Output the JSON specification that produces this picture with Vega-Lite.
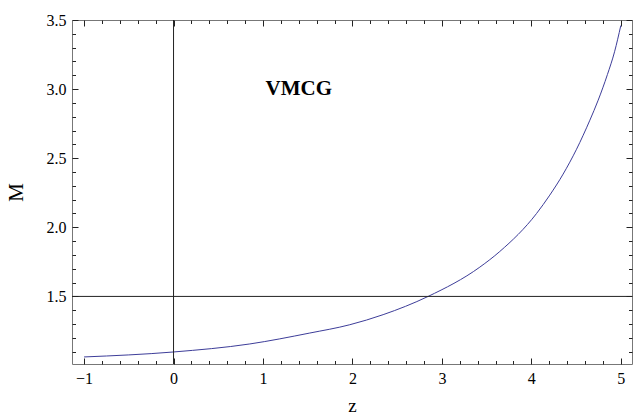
{
  "$schema": "https://vega.github.io/schema/vega-lite/v6.json",
  "autosize": "none",
  "padding": {"left": 72, "top": 20, "right": 1, "bottom": 53},
  "width": 560,
  "height": 344,
  "background": "white",
  "config": {"view": {"stroke": "#777", "strokeWidth": 1}, "font": "Liberation Serif", "axis": {"domain": false, "grid": false, "labelFont": "Liberation Serif", "titleFont": "Liberation Serif"}},
  "datasets": {
    "curve": [
      {"z": -1.0, "M": 1.062},
      {"z": 0.0, "M": 1.098},
      {"z": 0.852, "M": 1.156},
      {"z": 1.523, "M": 1.235},
      {"z": 1.97, "M": 1.295},
      {"z": 2.343, "M": 1.368},
      {"z": 2.846, "M": 1.5},
      {"z": 3.424, "M": 1.712},
      {"z": 3.647, "M": 1.825},
      {"z": 4.058, "M": 2.1},
      {"z": 4.206, "M": 2.233},
      {"z": 4.355, "M": 2.385},
      {"z": 4.505, "M": 2.565},
      {"z": 4.654, "M": 2.775},
      {"z": 4.747, "M": 2.92},
      {"z": 4.85, "M": 3.105},
      {"z": 4.93, "M": 3.27},
      {"z": 5.0, "M": 3.46}
    ],
    "label": [{"z": 1.4, "M": 3.0, "text": "VMCG"}],
    "hline": [{"M": 1.5}],
    "vline": [{"z": 0}]
  },
  "resolve": {"axis": {"x": "independent", "y": "independent"}},
  "layer": [
    {
      "data": {"name": "curve"},
      "mark": {"type": "line", "color": "#3d3d99", "strokeWidth": 1, "interpolate": "monotone", "clip": true},
      "encoding": {
        "x": {"field": "z", "type": "quantitative", "scale": {"domain": [-1.135, 5.125], "nice": false, "zero": false},
          "axis": {"orient": "bottom", "values": [-1, 0, 1, 2, 3, 4, 5], "format": "d", "tickSize": -6, "labelPadding": 12, "tickColor": "#222", "labelFontSize": 16, "labelColor": "#000", "title": "z", "titleFontSize": 19, "titleFontWeight": "normal", "titleColor": "#000", "titlePadding": 10}},
        "y": {"field": "M", "type": "quantitative", "scale": {"domain": [1.011, 3.5], "nice": false, "zero": false},
          "axis": {"orient": "left", "values": [1.5, 2.0, 2.5, 3.0, 3.5], "format": ".1f", "tickSize": -6, "labelPadding": 12, "tickColor": "#222", "labelFontSize": 16, "labelColor": "#000", "title": "M", "titleFontSize": 21, "titleFontWeight": "normal", "titleColor": "#000", "titlePadding": 20}}
      }
    },
    {
      "data": {"name": "curve"},
      "mark": {"type": "point", "opacity": 0},
      "encoding": {
        "x": {"field": "z", "type": "quantitative", "axis": {"orient": "top", "values": [-1, 0, 1, 2, 3, 4, 5], "labels": false, "title": null, "tickSize": -6, "tickColor": "#222"}},
        "y": {"field": "M", "type": "quantitative", "axis": {"orient": "right", "values": [1.5, 2.0, 2.5, 3.0, 3.5], "labels": false, "title": null, "tickSize": -6, "tickColor": "#222"}}
      }
    },
    {
      "data": {"name": "curve"},
      "mark": {"type": "point", "opacity": 0},
      "encoding": {
        "x": {"field": "z", "type": "quantitative", "axis": {"orient": "bottom", "values": [-0.8, -0.6, -0.4, -0.2, 0.2, 0.4, 0.6, 0.8, 1.2, 1.4, 1.6, 1.8, 2.2, 2.4, 2.6, 2.8, 3.2, 3.4, 3.6, 3.8, 4.2, 4.4, 4.6, 4.8], "labels": false, "title": null, "tickSize": -3.5, "tickColor": "#222"}},
        "y": {"field": "M", "type": "quantitative", "axis": {"orient": "left", "values": [1.1, 1.2, 1.3, 1.4, 1.6, 1.7, 1.8, 1.9, 2.1, 2.2, 2.3, 2.4, 2.6, 2.7, 2.8, 2.9, 3.1, 3.2, 3.3, 3.4], "labels": false, "title": null, "tickSize": -3.5, "tickColor": "#222"}}
      }
    },
    {
      "data": {"name": "curve"},
      "mark": {"type": "point", "opacity": 0},
      "encoding": {
        "x": {"field": "z", "type": "quantitative", "axis": {"orient": "top", "values": [-0.8, -0.6, -0.4, -0.2, 0.2, 0.4, 0.6, 0.8, 1.2, 1.4, 1.6, 1.8, 2.2, 2.4, 2.6, 2.8, 3.2, 3.4, 3.6, 3.8, 4.2, 4.4, 4.6, 4.8], "labels": false, "title": null, "tickSize": -3.5, "tickColor": "#222"}},
        "y": {"field": "M", "type": "quantitative", "axis": {"orient": "right", "values": [1.1, 1.2, 1.3, 1.4, 1.6, 1.7, 1.8, 1.9, 2.1, 2.2, 2.3, 2.4, 2.6, 2.7, 2.8, 2.9, 3.1, 3.2, 3.3, 3.4], "labels": false, "title": null, "tickSize": -3.5, "tickColor": "#222"}}
      }
    },
    {
      "data": {"name": "hline"},
      "mark": {"type": "rule", "color": "#222", "strokeWidth": 1},
      "encoding": {"y": {"field": "M", "type": "quantitative", "axis": null}}
    },
    {
      "data": {"name": "vline"},
      "mark": {"type": "rule", "color": "#222", "strokeWidth": 1},
      "encoding": {"x": {"field": "z", "type": "quantitative", "axis": null}}
    },
    {
      "data": {"name": "label"},
      "mark": {"type": "text", "font": "Liberation Serif", "fontWeight": "bold", "fontSize": 21, "color": "#000", "align": "center", "baseline": "middle"},
      "encoding": {
        "x": {"field": "z", "type": "quantitative", "axis": null},
        "y": {"field": "M", "type": "quantitative", "axis": null},
        "text": {"field": "text"}
      }
    }
  ]
}
